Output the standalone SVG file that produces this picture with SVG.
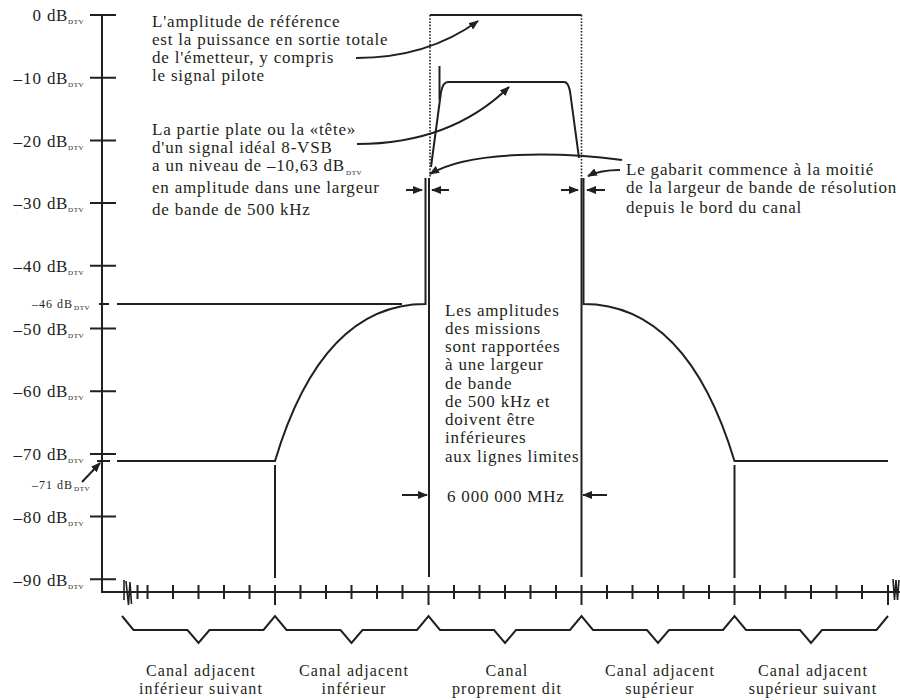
<svg xmlns="http://www.w3.org/2000/svg" width="900" height="700" viewBox="0 0 900 700">
<style>
.ln{fill:none;stroke:#231f20;stroke-width:2}
.thin{fill:none;stroke:#231f20;stroke-width:1.6}
.dot{fill:none;stroke:#231f20;stroke-width:1.6;stroke-dasharray:1.6 1.6}
.t{font-family:"Liberation Serif","Times New Roman",serif;font-size:17px;fill:#231f20;letter-spacing:0.8px}
.n{text-anchor:end;letter-spacing:1px}
.d{letter-spacing:0.5px}
.sub{font-family:"Liberation Serif","Times New Roman",serif;font-size:7px;fill:#231f20;letter-spacing:0.6px}
.sm{font-family:"Liberation Serif","Times New Roman",serif;font-size:12px;fill:#231f20;letter-spacing:1px}
.c{text-anchor:middle;font-size:16px;letter-spacing:1.1px}
</style>
<defs>
<marker id="ah" markerUnits="userSpaceOnUse" markerWidth="10" markerHeight="8" refX="9" refY="4" orient="auto">
<path d="M0,0 L10,4 L0,8 z" fill="#231f20"/>
</marker>
</defs>
<rect width="900" height="700" fill="#ffffff"/>

<g id="axes">
<path class="ln" d="M102,15 V592 H900"/>
<path class="ln" d="M90,15 H116 M90,77.7 H116 M90,140.4 H116 M90,203.1 H116 M90,265.8 H116 M90,328.5 H116 M90,391.2 H116 M90,453.9 H116 M90,516.6 H116 M90,579.3 H116"/>
<path class="ln" d="M99,304 H109 M97,461 H110"/>
<path class="ln" d="M137.5,585 V599 M147.5,585 V599 M173,585 V599 M198.5,585 V599 M224,585 V599 M249.5,585 V599 M300.5,585 V599 M326,585 V599 M351.5,585 V599 M377,585 V599 M402.5,585 V599 M454,585 V599 M479.5,585 V599 M505,585 V599 M530.5,585 V599 M556,585 V599 M607,585 V599 M632.5,585 V599 M658,585 V599 M683.5,585 V599 M709,585 V599 M760,585 V599 M785.5,585 V599 M811,585 V599 M836.5,585 V599 M862,585 V599"/>
<path class="ln" d="M275,585 V605 M428.5,585 V605 M581.5,585 V605 M734.5,585 V605 M888,585 V605"/>
<path class="thin" d="M124,580 V600 M126,581 L128.5,605 L130,582 L131.5,604 M893,579 L894.5,600 L896,580 L897.5,600 L899,580"/>
</g>

<g id="y-labels">
<text class="t n" x="42" y="21">0</text><text class="t d" x="47" y="21">dB</text><text class="sub" x="68" y="24">DTV</text>
<text class="t n" x="42" y="84">–10</text><text class="t d" x="47" y="84">dB</text><text class="sub" x="68" y="87">DTV</text>
<text class="t n" x="42" y="146.5">–20</text><text class="t d" x="47" y="146.5">dB</text><text class="sub" x="68" y="149.5">DTV</text>
<text class="t n" x="42" y="209">–30</text><text class="t d" x="47" y="209">dB</text><text class="sub" x="68" y="212">DTV</text>
<text class="t n" x="42" y="272">–40</text><text class="t d" x="47" y="272">dB</text><text class="sub" x="68" y="275">DTV</text>
<text class="t n" x="42" y="334.5">–50</text><text class="t d" x="47" y="334.5">dB</text><text class="sub" x="68" y="337.5">DTV</text>
<text class="t n" x="42" y="397">–60</text><text class="t d" x="47" y="397">dB</text><text class="sub" x="68" y="400">DTV</text>
<text class="t n" x="42" y="460">–70</text><text class="t d" x="47" y="460">dB</text><text class="sub" x="68" y="463">DTV</text>
<text class="t n" x="42" y="522.5">–80</text><text class="t d" x="47" y="522.5">dB</text><text class="sub" x="68" y="525.5">DTV</text>
<text class="t n" x="42" y="585.5">–90</text><text class="t d" x="47" y="585.5">dB</text><text class="sub" x="68" y="588.5">DTV</text>
<text class="sm" x="32" y="307.5">–46 dB</text><text class="sub" x="74" y="310">DTV</text>
<text class="sm" x="32" y="488.5">–71 dB</text><text class="sub" x="74" y="491">DTV</text>
</g>

<g id="mask">
<path class="ln" d="M117,304 H402"/>
<path class="ln" d="M117,461 H275 Q322,304 425.5,304 V178"/>
<path class="ln" d="M888,461 H734.5 Q687,304 583.5,304 V178"/>
<path class="ln" d="M275,465 V578 M734.5,465 V578"/>
<path class="ln" d="M429,178 V577 M581.5,178 V577"/>
<path class="ln" d="M430,15 H581.5"/>
<path class="dot" d="M430,15 V178 M581.5,15 V178"/>
</g>

<g id="signal">
<path class="ln" d="M431,167 L441,92 Q443,82 448,82 L564,82 Q569,82 570.5,95 L579,158"/>
<path class="ln" d="M439.5,66 V100"/>
</g>

<g id="connectors">
<path class="ln" marker-end="url(#ah)" d="M356,58 C405,58 445,45 478,21"/>
<path class="ln" marker-end="url(#ah)" d="M357,144 C420,144 470,125 509,87"/>
<path class="ln" marker-end="url(#ah)" d="M622,160 C560,152 470,150 430,174"/>
<path class="ln" marker-end="url(#ah)" d="M620,170 C606,170 596,172 588,176"/>
<path class="ln" marker-end="url(#ah)" d="M406,190 H422"/>
<path class="ln" marker-end="url(#ah)" d="M449,190 H432"/>
<path class="ln" marker-end="url(#ah)" d="M561,190 H578"/>
<path class="ln" marker-end="url(#ah)" d="M605,190 H587"/>
<path class="ln" marker-end="url(#ah)" d="M402,495 H427"/>
<path class="ln" marker-end="url(#ah)" d="M607,495 H583"/>
<path class="ln" marker-end="url(#ah)" d="M82,482 L100,463"/>
</g>

<g id="braces">
<path class="ln" d="M122,616 L133.5,630 H187.5 L198.5,643 L209.5,630 H263.5 L275,616 L286.5,630 H340.5 L351.5,643 L362.5,630 H417 L428.5,616 L440,630 H494 L505,643 L516,630 H570 L581.5,616 L593,630 H647 L658,643 L669,630 H723 L734.5,616 L746,630 H800 L811,643 L822,630 H876.5 L888,616"/>
</g>

<g id="annotations">
<text class="t" x="152" y="27">L'amplitude de référence</text>
<text class="t" x="152" y="45">est la puissance en sortie totale</text>
<text class="t" x="152" y="63">de l'émetteur, y compris</text>
<text class="t" x="152" y="81">le signal pilote</text>
<text class="t" x="152" y="135">La partie plate ou la «tête»</text>
<text class="t" x="152" y="153">d'un signal idéal 8-VSB</text>
<text class="t" x="152" y="171">a un niveau de –10,63 dB</text><text class="sub" x="346" y="175">DTV</text>
<text class="t" x="152" y="193">en amplitude dans une largeur</text>
<text class="t" x="152" y="215">de bande de 500 kHz</text>
<text class="t" x="626" y="175">Le gabarit commence à la moitié</text>
<text class="t" x="626" y="193">de la largeur de bande de résolution</text>
<text class="t" x="626" y="213">depuis le bord du canal</text>
<text class="t" x="445" y="316">Les amplitudes</text>
<text class="t" x="445" y="334">des missions</text>
<text class="t" x="445" y="352">sont rapportées</text>
<text class="t" x="445" y="370">à une largeur</text>
<text class="t" x="445" y="389">de bande</text>
<text class="t" x="445" y="407">de 500 kHz et</text>
<text class="t" x="445" y="425">doivent être</text>
<text class="t" x="445" y="443">inférieures</text>
<text class="t" x="445" y="462">aux lignes limites</text>
<text class="t" x="447" y="502">6 000 000 MHz</text>
</g>

<g id="channel-labels">
<text class="t c" x="201" y="676">Canal adjacent</text>
<text class="t c" x="201" y="694">inférieur suivant</text>
<text class="t c" x="354" y="676">Canal adjacent</text>
<text class="t c" x="354" y="694">inférieur</text>
<text class="t c" x="507" y="676">Canal</text>
<text class="t c" x="507" y="694">proprement dit</text>
<text class="t c" x="660" y="676">Canal adjacent</text>
<text class="t c" x="660" y="694">supérieur</text>
<text class="t c" x="813" y="676">Canal adjacent</text>
<text class="t c" x="813" y="694">supérieur suivant</text>
</g>
</svg>
